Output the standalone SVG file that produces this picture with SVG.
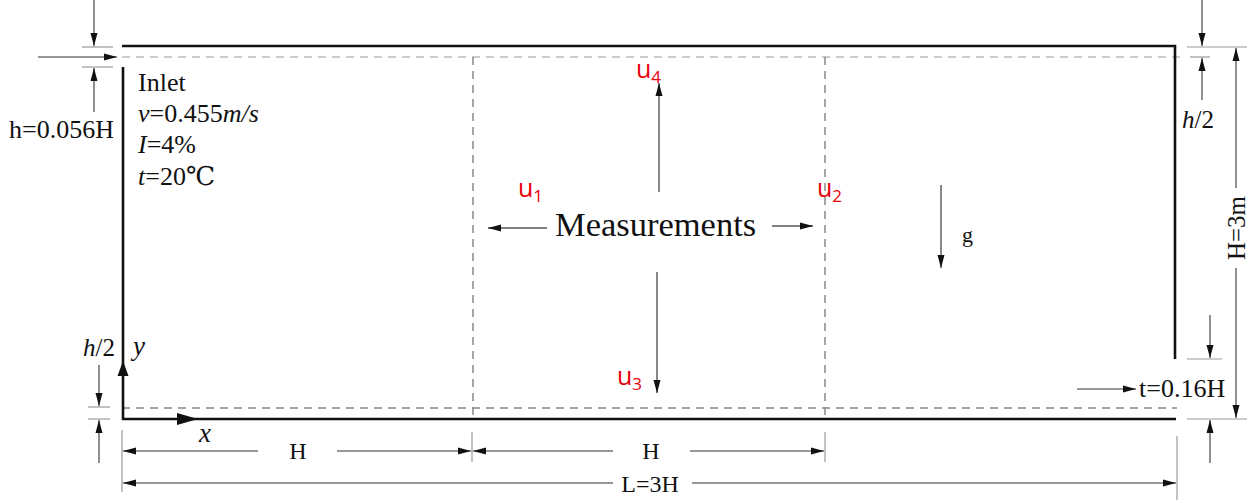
<svg xmlns="http://www.w3.org/2000/svg" width="1253" height="502" viewBox="0 0 1253 502">
<style>
.wall{stroke:#111;stroke-width:2.6;fill:none}
.dash{stroke:#888;stroke-width:1.5;stroke-dasharray:8,6;fill:none}
.dashl{stroke:#bbb;stroke-width:1.5;stroke-dasharray:8,6;fill:none}
.dim{stroke:#333;stroke-width:1.1;fill:none}
.arr{stroke:#555;stroke-width:1.4;fill:none}
.tick{stroke:#999;stroke-width:1.2;fill:none}
.t{font-family:"Liberation Serif","DejaVu Serif","Times New Roman",serif;fill:#111}
.i{font-style:italic}
.u{font-family:"Open Sans","Liberation Sans",sans-serif;fill:#e8000b;font-size:25px}
.sub{font-size:17px}
</style>
<defs>
<marker id="ah" markerUnits="userSpaceOnUse" markerWidth="14" markerHeight="8" refX="13" refY="4" orient="auto-start-reverse">
<path d="M0,0.5 L13,4 L0,7.5 z" fill="#111"/>
</marker>
</defs>

<g id="domain">
<line class="dashl" x1="122" y1="57" x2="1180" y2="57"/>
<line class="dash" x1="122" y1="408" x2="1177" y2="408"/>
<line class="dash" x1="473" y1="57" x2="473" y2="419"/>
<line class="dash" x1="825" y1="57" x2="825" y2="419"/>
<polyline class="wall" points="122,46 1175,46 1175,359"/>
<polyline class="wall" points="123,67 123,419 1176,419"/>
<polygon points="123,361 117.5,376 128.5,376" fill="#111"/>
<polygon points="198,419 177,413 177,425" fill="#111"/>
</g>

<g id="inlet-label">
<text class="t" x="138" y="91" font-size="26">Inlet</text>
<text class="t" x="138" y="122" font-size="26"><tspan class="i">v</tspan>=0.455<tspan class="i">m/s</tspan></text>
<text class="t" x="138" y="153" font-size="26"><tspan class="i">I</tspan>=4%</text>
<text class="t" x="138" y="185" font-size="26"><tspan class="i">t</tspan>=20℃</text>
</g>

<g id="axes-labels">
<text class="t i" x="133" y="355" font-size="27">y</text>
<text class="t i" x="199" y="442" font-size="27">x</text>
</g>

<g id="measurements">
<text class="t" x="555" y="236" font-size="34.5">Measurements</text>
<text class="u" x="518" y="197">u<tspan class="sub" dy="5">1</tspan></text>
<text class="u" x="817" y="197">u<tspan class="sub" dy="5">2</tspan></text>
<text class="u" x="617" y="385">u<tspan class="sub" dy="5">3</tspan></text>
<text class="u" x="636" y="78">u<tspan class="sub" dy="5">4</tspan></text>
</g>

<g id="gravity">
<text class="t" x="962" y="242" font-size="22">g</text>
</g>

<g id="dimension-labels">
<text class="t" x="9" y="138" font-size="26">h=0.056H</text>
<text class="t" x="83" y="356" font-size="25"><tspan class="i">h</tspan>/2</text>
<text class="t" x="1182" y="128" font-size="25"><tspan class="i">h</tspan>/2</text>
<text class="t" x="1139" y="397" font-size="26">t=0.16H</text>
<text class="t" x="0" y="0" font-size="25" text-anchor="middle" transform="translate(1245,228) rotate(-90)">H=3m</text>
<text class="t" x="298" y="459" font-size="24" text-anchor="middle">H</text>
<text class="t" x="651" y="459" font-size="24" text-anchor="middle">H</text>
<text class="t" x="650" y="492" font-size="24" text-anchor="middle">L=3H</text>
</g>

<g id="connectors">
<line class="arr" x1="659" y1="192" x2="659" y2="83" marker-end="url(#ah)"/>
<line class="arr" x1="657" y1="272" x2="657" y2="393" marker-end="url(#ah)"/>
<line class="arr" x1="547" y1="228" x2="488" y2="228" marker-end="url(#ah)"/>
<line class="arr" x1="772" y1="226" x2="813" y2="226" marker-end="url(#ah)"/>
<line class="arr" x1="941" y1="185" x2="941" y2="268" marker-end="url(#ah)"/>
<line class="tick" x1="82" y1="47" x2="113" y2="47"/>
<line class="tick" x1="82" y1="67" x2="113" y2="67"/>
<line class="dim" x1="94" y1="0" x2="94" y2="46" marker-end="url(#ah)"/>
<line class="dim" x1="94" y1="112" x2="94" y2="68" marker-end="url(#ah)"/>
<line class="dim" x1="38" y1="57" x2="117" y2="57" marker-end="url(#ah)"/>
<line class="tick" x1="1187" y1="47" x2="1247" y2="47"/>
<line class="tick" x1="1190" y1="57" x2="1210" y2="57"/>
<line class="dim" x1="1202" y1="0" x2="1202" y2="46" marker-end="url(#ah)"/>
<line class="dim" x1="1202" y1="100" x2="1202" y2="58" marker-end="url(#ah)"/>
<line class="dim" x1="1236" y1="188" x2="1236" y2="48" marker-end="url(#ah)"/>
<line class="dim" x1="1236" y1="268" x2="1236" y2="418" marker-end="url(#ah)"/>
<line class="tick" x1="1187" y1="359" x2="1222" y2="359"/>
<line class="tick" x1="1187" y1="419" x2="1247" y2="419"/>
<line class="dim" x1="1210" y1="315" x2="1210" y2="358" marker-end="url(#ah)"/>
<line class="dim" x1="1210" y1="463" x2="1210" y2="420" marker-end="url(#ah)"/>
<line class="dim" x1="1077" y1="389" x2="1136" y2="389" marker-end="url(#ah)"/>
<line class="tick" x1="88" y1="407" x2="110" y2="407"/>
<line class="tick" x1="88" y1="419" x2="110" y2="419"/>
<line class="dim" x1="99" y1="365" x2="99" y2="406" marker-end="url(#ah)"/>
<line class="dim" x1="99" y1="463" x2="99" y2="420" marker-end="url(#ah)"/>
<line class="tick" x1="122" y1="430" x2="122" y2="492"/>
<line class="tick" x1="472" y1="432" x2="472" y2="462"/>
<line class="tick" x1="825" y1="432" x2="825" y2="462"/>
<line class="tick" x1="1177" y1="436" x2="1177" y2="500"/>
<line class="dim" x1="258" y1="451" x2="123" y2="451" marker-end="url(#ah)"/>
<line class="dim" x1="337" y1="451" x2="471" y2="451" marker-end="url(#ah)"/>
<line class="dim" x1="613" y1="451" x2="473" y2="451" marker-end="url(#ah)"/>
<line class="dim" x1="690" y1="451" x2="824" y2="451" marker-end="url(#ah)"/>
<line class="dim" x1="613" y1="483" x2="123" y2="483" marker-end="url(#ah)"/>
<line class="dim" x1="692" y1="483" x2="1176" y2="483" marker-end="url(#ah)"/>
</g>
</svg>
